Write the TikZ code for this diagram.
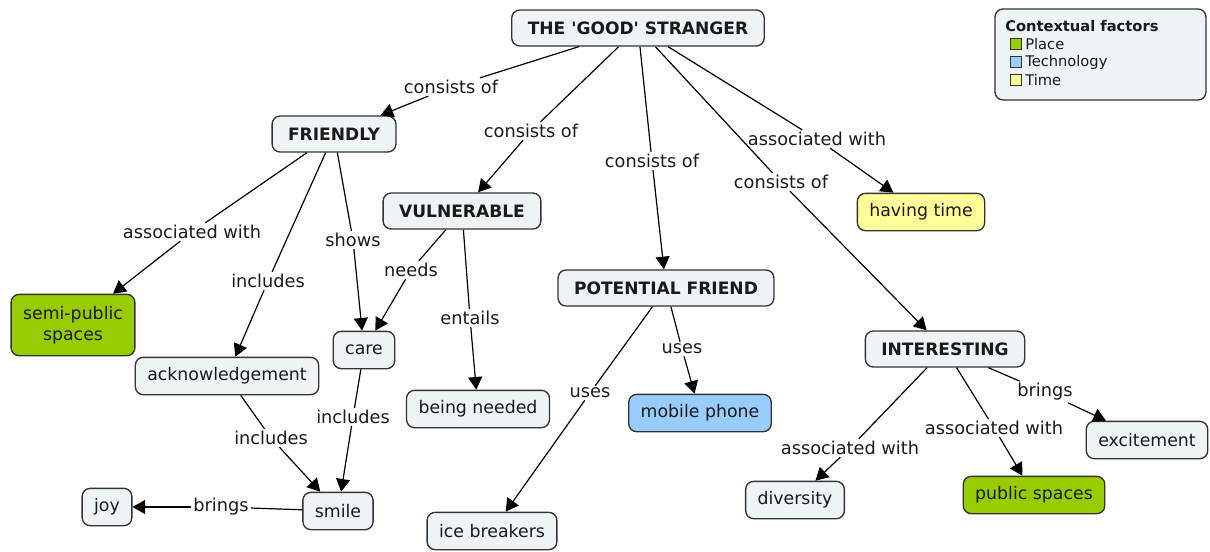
\documentclass[tikz,border=0pt]{standalone}
\usepackage{fontspec}
\setmainfont{DejaVu Sans}[Ligatures=TeXOff]
\usetikzlibrary{arrows.meta}
\definecolor{cmapfill}{HTML}{EEF3F5}
\definecolor{cmapline}{HTML}{333333}
\definecolor{cmaptext}{HTML}{1A1A1A}
\definecolor{placefill}{HTML}{99CC00}
\definecolor{techfill}{HTML}{99CCFF}
\definecolor{timefill}{HTML}{FFFF99}
\tikzset{
	concept/.style = {draw=cmapline, fill=cmapfill, rounded corners=6pt, line width=1pt, inner xsep=9pt, inner ysep=5pt, minimum height=28pt, text=cmaptext, align=center, font=\fontsize{13}{16}\selectfont},
	topic/.style = {concept, inner xsep=12pt, minimum height=27pt, font=\fontsize{12.8}{16}\selectfont\bfseries},
	placebox/.style = {concept, fill=placefill},
	techbox/.style = {concept, fill=techfill},
	timebox/.style = {concept, fill=timefill},
	linkphrase/.style = {inner sep=1.5pt, text=cmaptext, font=\fontsize{13.3}{16}\selectfont},
	conn/.style = {line width=0.9pt, draw=black},
	arr/.style = {conn, -{Triangle[length=9.5pt,width=10.5pt]}},
	swatch/.style = {draw=cmapline, line width=0.7pt, minimum size=8.5pt, inner sep=0pt},
}

\begin{document}
\begin{tikzpicture}[x=0.75pt, y=-0.75pt]
	\useasboundingbox (0,0) rectangle (1210,551);
	% concepts
	\node[topic] (stranger) at (638,28) {THE 'GOOD' STRANGER};
	\node[topic] (friendly) at (334,134) {FRIENDLY};
	\node[topic] (vulnerable) at (462,211) {VULNERABLE};
	\node[topic] (potential) at (666,288) {POTENTIAL FRIEND};
	\node[topic] (interesting) at (945,349) {INTERESTING};
	\node[timebox] (havingtime) at (921,212) {having time};
	\node[placebox, minimum height=46pt] (semipublic) at (73,325) {semi-public\\spaces};
	\node[concept] (acknowledgement) at (227,376) {acknowledgement};
	\node[concept] (care) at (364,350) {care};
	\node[concept] (beingneeded) at (478,409) {being needed};
	\node[techbox] (mobile) at (700,413) {mobile phone};
	\node[concept] (icebreakers) at (492,531) {ice breakers};
	\node[concept] (smile) at (338,511) {smile};
	\node[concept] (joy) at (107,507) {joy};
	\node[concept] (diversity) at (795,500) {diversity};
	\node[placebox] (publicspaces) at (1034,495) {public spaces};
	\node[concept] (excitement) at (1147,440) {excitement};

	% linking phrases
	\node[linkphrase] (l1) at (451,87) {consists of};
	\node[linkphrase] (l2) at (531,131) {consists of};
	\node[linkphrase] (l3) at (652,161) {consists of};
	\node[linkphrase] (l4) at (781,182) {consists of};
	\node[linkphrase] (l5) at (817,139) {associated with};
	\node[linkphrase] (l6) at (192,232) {associated with};
	\node[linkphrase] (l7) at (268,281) {includes};
	\node[linkphrase] (l8) at (353,240) {shows};
	\node[linkphrase] (l9) at (411,270) {needs};
	\node[linkphrase] (l10) at (470,318) {entails};
	\node[linkphrase] (l11) at (271,438) {includes};
	\node[linkphrase] (l12) at (353,417) {includes};
	\node[linkphrase] (l13) at (221,507) {brings};
	\node[linkphrase] (l14) at (590,393) {uses};
	\node[linkphrase] (l15) at (682,349) {uses};
	\node[linkphrase] (l16) at (850,448) {associated with};
	\node[linkphrase] (l17) at (994,428) {associated with};
	\node[linkphrase] (l18) at (1045,392) {brings};

	% connections
	\draw[conn] (stranger) -- (l1); \draw[arr] (l1) -- (friendly);
	\draw[conn] (stranger) -- (l2); \draw[arr] (l2) -- (vulnerable);
	\draw[conn] (stranger) -- (l3); \draw[arr] (l3) -- (potential);
	\draw[conn] (stranger) -- (l4); \draw[arr] (l4) -- (interesting);
	\draw[conn] (stranger) -- (l5); \draw[arr] (l5) -- (havingtime);
	\draw[conn] (friendly) -- (l6); \draw[arr] (l6) -- (semipublic);
	\draw[conn] (friendly) -- (l7); \draw[arr] (l7) -- (acknowledgement);
	\draw[conn] (friendly) -- (l8); \draw[arr] (l8) -- (care);
	\draw[conn] (vulnerable) -- (l9); \draw[arr] (l9) -- (care);
	\draw[conn] (vulnerable) -- (l10); \draw[arr] (l10) -- (beingneeded);
	\draw[conn] (acknowledgement) -- (l11); \draw[arr] (l11) -- (smile);
	\draw[conn] (care) -- (l12); \draw[arr] (l12) -- (smile);
	\draw[conn] (smile) -- (l13); \draw[arr] (l13) -- (joy);
	\draw[conn] (potential) -- (l14); \draw[arr] (l14) -- (icebreakers);
	\draw[conn] (potential) -- (l15); \draw[arr] (l15) -- (mobile);
	\draw[conn] (interesting) -- (l16); \draw[arr] (l16) -- (diversity);
	\draw[conn] (interesting) -- (l17); \draw[arr] (l17) -- (publicspaces);
	\draw[conn] (interesting) -- (l18); \draw[arr] (l18) -- (excitement);

	% legend
	\draw[draw=cmapline, fill=cmapfill, rounded corners=6pt, line width=1pt] (995,9) rectangle (1206,100);
	\node[anchor=west, inner sep=0pt, text=cmaptext, font=\fontsize{11}{12}\selectfont\bfseries] (legtitle) at (1005,26) {Contextual factors};
	\node[swatch, fill=placefill] (swplace) at (1016,44) {};
	\node[swatch, fill=techfill] (swtech) at (1016,62) {};
	\node[swatch, fill=timefill] (swtime) at (1016,80) {};
	\node[anchor=west, inner sep=0pt, text=cmaptext, font=\fontsize{11}{12}\selectfont] at (1025,44) {Place};
	\node[anchor=west, inner sep=0pt, text=cmaptext, font=\fontsize{11}{12}\selectfont] at (1025,62) {Technology};
	\node[anchor=west, inner sep=0pt, text=cmaptext, font=\fontsize{11}{12}\selectfont] at (1025,80) {Time};
\end{tikzpicture}
\end{document}
